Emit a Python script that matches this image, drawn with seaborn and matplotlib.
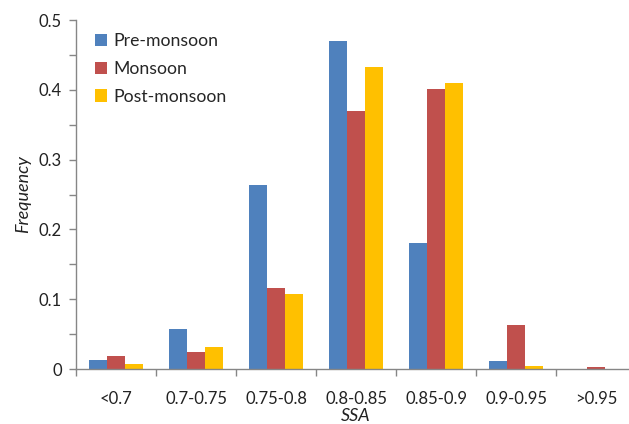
import matplotlib
matplotlib.use("Agg")
import matplotlib.pyplot as plt
from matplotlib.ticker import MultipleLocator, FixedLocator
import seaborn as sns
import pandas as pd

categories = ["<0.7", "0.7-0.75", "0.75-0.8", "0.8-0.85", "0.85-0.9", "0.9-0.95", ">0.95"]
seasons = ["Pre-monsoon", "Monsoon", "Post-monsoon"]
pre_monsoon = [0.013, 0.058, 0.263, 0.470, 0.180, 0.011, 0.0]
monsoon = [0.019, 0.024, 0.116, 0.369, 0.401, 0.063, 0.003]
post_monsoon = [0.007, 0.031, 0.107, 0.433, 0.410, 0.005, 0.0]
colors = ["#4F81BD", "#C0504D", "#FFC000"]

rows = []
for season, vals in zip(seasons, [pre_monsoon, monsoon, post_monsoon]):
    for cat, v in zip(categories, vals):
        rows.append({"SSA": cat, "Frequency": v, "Season": season})
df = pd.DataFrame(rows)

sns.set_theme(style="white")
plt.rcParams["font.family"] = ["Lato", "DejaVu Sans"]

fig = plt.figure(figsize=(6.29, 4.24), dpi=100)
ax = fig.add_axes([76 / 629, (424 - 369) / 424, 560 / 629, 349 / 424])

sns.barplot(data=df, x="SSA", y="Frequency", hue="Season", order=categories,
            hue_order=seasons, palette=colors, width=0.675, saturation=1,
            edgecolor="none", linewidth=0, ax=ax)

ax.set_xlim(-0.5, 6.5)
ax.set_ylim(0, 0.5)
ax.set_yticks([0, 0.1, 0.2, 0.3, 0.4, 0.5])
ax.set_yticklabels(["0", "0.1", "0.2", "0.3", "0.4", "0.5"])
ax.yaxis.set_minor_locator(MultipleLocator(0.05))
ax.xaxis.set_minor_locator(FixedLocator([i - 0.5 for i in range(8)]))

gray = "#868686"
for s in ["top", "right"]:
    ax.spines[s].set_visible(False)
for s in ["left", "bottom"]:
    ax.spines[s].set_color(gray)
    ax.spines[s].set_linewidth(1.0)

ax.tick_params(axis="y", which="major", direction="out", length=5, color=gray,
               width=1, labelsize=12, labelcolor="#222222", left=True, pad=5)
ax.tick_params(axis="y", which="minor", direction="out", length=5, color=gray,
               width=1, left=True)
ax.tick_params(axis="x", which="major", length=0, labelsize=12,
               labelcolor="#222222", pad=16)
ax.tick_params(axis="x", which="minor", direction="out", length=5, color=gray,
               width=1, bottom=True)

ax.set_xlabel("SSA", fontsize=13, style="italic", color="#222222")
ax.xaxis.set_label_coords(0.5, -0.112)
ax.set_ylabel("Frequency", fontsize=13, style="italic", labelpad=6, color="#222222")

ax.legend(loc="upper left", bbox_to_anchor=(0.012, 0.997), frameon=False,
          fontsize=12.7, handlelength=0.7, handleheight=0.7,
          handletextpad=0.35, labelspacing=0.66, borderaxespad=0.3)

fig.savefig("out.png", dpi=100)
